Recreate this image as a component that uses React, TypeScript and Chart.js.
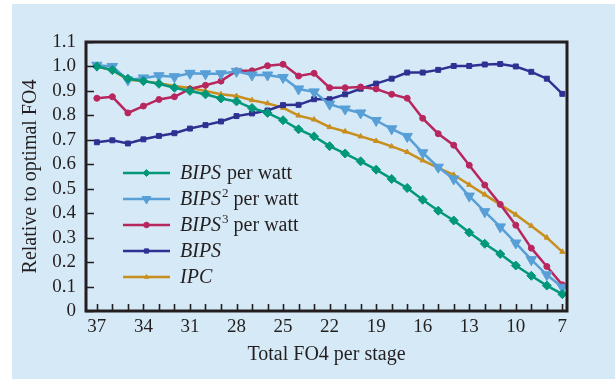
import React, { useEffect, useRef } from "react";
import { Chart, registerables } from "chart.js";
import { drawPoint } from "chart.js/helpers";

Chart.register(...registerables);

// ---------- data ----------
const fo4 = [37, 36, 35, 34, 33, 32, 31, 30, 29, 28, 27, 26, 25, 24, 23, 22, 21, 20, 19, 18, 17, 16, 15, 14, 13, 12, 11, 10, 9, 8, 7];

const bipsPerWatt = [1.0, 0.985, 0.95, 0.94, 0.929, 0.913, 0.9, 0.886, 0.869, 0.857, 0.83, 0.81, 0.78, 0.743, 0.714, 0.674, 0.644, 0.612, 0.578, 0.54, 0.503, 0.455, 0.41, 0.37, 0.321, 0.275, 0.233, 0.186, 0.144, 0.104, 0.069];
const bips2PerWatt = [1.005, 1.0, 0.945, 0.953, 0.962, 0.958, 0.972, 0.97, 0.97, 0.98, 0.965, 0.965, 0.955, 0.908, 0.896, 0.846, 0.826, 0.81, 0.779, 0.745, 0.714, 0.647, 0.588, 0.54, 0.47, 0.406, 0.344, 0.278, 0.21, 0.148, 0.097];
const bips3PerWatt = [0.87, 0.876, 0.81, 0.838, 0.865, 0.876, 0.908, 0.923, 0.94, 0.982, 0.982, 1.003, 1.009, 0.961, 0.972, 0.913, 0.913, 0.916, 0.908, 0.886, 0.87, 0.788, 0.725, 0.678, 0.596, 0.515, 0.436, 0.351, 0.257, 0.182, 0.107];
const bips = [0.69, 0.698, 0.685, 0.702, 0.716, 0.727, 0.746, 0.76, 0.775, 0.797, 0.808, 0.82, 0.842, 0.843, 0.866, 0.866, 0.886, 0.909, 0.93, 0.95, 0.975, 0.975, 0.986, 1.002, 1.002, 1.008, 1.01, 1.0, 0.978, 0.95, 0.888];
const ipc = [1.0, 0.985, 0.946, 0.94, 0.931, 0.92, 0.912, 0.9, 0.886, 0.879, 0.862, 0.849, 0.831, 0.799, 0.783, 0.752, 0.734, 0.714, 0.695, 0.673, 0.65, 0.616, 0.585, 0.557, 0.516, 0.476, 0.435, 0.394, 0.348, 0.3, 0.242];

const seriesLabels = ["BIPS per watt", "BIPS² per watt", "BIPS³ per watt", "BIPS", "IPC"];
const legendItalic = ["BIPS", "BIPS", "BIPS", "BIPS", "IPC"];
const legendSup = ["", "2", "3", "", ""];
const legendRest = [" per watt", " per watt", " per watt", "", ""];

const xTicks = [37, 34, 31, 28, 25, 22, 19, 16, 13, 10, 7];
const yTicks = [0, 0.1, 0.2, 0.3, 0.4, 0.5, 0.6, 0.7, 0.8, 0.9, 1.0, 1.1];
const xMinorTicks = fo4;

const xTitle = "Total FO4 per stage";
const yTitle = "Relative to optimal FO4";

// ---------- styles ----------
const INK = "#231f20";
const FONT = "'Liberation Serif', 'DejaVu Serif', serif";
const colors = ["#00977a", "#579fd6", "#b7275e", "#2e3192", "#c88f1f"];
const shapes = ["rectRot", "triangle", "circle", "rect", "triangle"];
const radii = [4.5, 6, 3, 3.5, 3];
const legendRadii = [3.5, 5, 2.8, 3, 2.5];
const rotations = [0, 180, 0, 0, 0];
const allSeries = [bipsPerWatt, bips2PerWatt, bips3PerWatt, bips, ipc];

const framePlugin = {
  id: "frameAndTicks",
  afterDraw(chart: any) {
    const { ctx, chartArea } = chart;
    const xs = chart.scales.x;
    const ys = chart.scales.y;
    ctx.save();
    ctx.strokeStyle = INK;
    ctx.lineWidth = 1.6;
    ctx.beginPath();
    for (const v of xMinorTicks) {
      const px = Math.round(xs.getPixelForValue(v)) + 0.5;
      ctx.moveTo(px, chartArea.bottom);
      ctx.lineTo(px, chartArea.bottom - 7);
    }
    for (const v of yTicks) {
      const py = Math.round(ys.getPixelForValue(v)) + 0.5;
      ctx.moveTo(chartArea.left, py);
      ctx.lineTo(chartArea.left + 8, py);
    }
    ctx.stroke();
    ctx.lineWidth = 3;
    ctx.strokeRect(chartArea.left, chartArea.top, chartArea.right - chartArea.left, chartArea.bottom - chartArea.top);
    ctx.restore();
  },
};

const legendPlugin = {
  id: "insideLegend",
  afterDatasetsDraw(chart: any) {
    const { ctx, chartArea } = chart;
    const x0 = chartArea.left + 37;
    const y0 = chartArea.top + 131;
    const rowH = 26;
    ctx.save();
    chart.data.datasets.forEach((ds: any, i: number) => {
      const y = y0 + i * rowH;
      ctx.strokeStyle = ds.borderColor;
      ctx.lineWidth = 2.5;
      ctx.beginPath();
      ctx.moveTo(x0, y);
      ctx.lineTo(x0 + 47, y);
      ctx.stroke();
      ctx.fillStyle = ds.pointBackgroundColor;
      ctx.strokeStyle = ds.pointBorderColor;
      ctx.lineWidth = 1;
      drawPoint(ctx, { pointStyle: ds.pointStyle, radius: legendRadii[i], rotation: ds.pointRotation, borderWidth: 1 }, x0 + 23.5, y);
      let tx = x0 + 57;
      ctx.fillStyle = INK;
      ctx.textBaseline = "middle";
      ctx.textAlign = "left";
      ctx.font = `italic 20px ${FONT}`;
      ctx.fillText(legendItalic[i], tx, y + 1);
      tx += ctx.measureText(legendItalic[i]).width + 1;
      if (legendSup[i]) {
        ctx.font = `13px ${FONT}`;
        ctx.fillText(legendSup[i], tx, y - 5);
        tx += ctx.measureText(legendSup[i]).width;
      }
      if (legendRest[i]) {
        ctx.font = `20px ${FONT}`;
        ctx.fillText(legendRest[i], tx, y + 1);
      }
    });
    ctx.restore();
  },
};

export default function App() {
  const ref = useRef<HTMLCanvasElement | null>(null);

  useEffect(() => {
    if (!ref.current) return;
    const datasets = allSeries.map((vals, i) => ({
      label: seriesLabels[i],
      data: vals.map((v, j) => ({ x: fo4[j], y: v })),
      borderColor: colors[i],
      backgroundColor: colors[i],
      pointBackgroundColor: colors[i],
      pointBorderColor: colors[i],
      pointStyle: shapes[i],
      pointRadius: radii[i],
      pointRotation: rotations[i],
      pointBorderWidth: 1,
      borderWidth: 2.5,
      tension: 0,
      fill: false,
    }));
    const tickFont = { family: FONT, size: 19 };
    const titleFont = { family: FONT, size: 20 };
    const chart = new Chart(ref.current, {
      type: "line",
      data: { datasets: datasets.slice().reverse() as any },
      options: {
        animation: false,
        responsive: false,
        maintainAspectRatio: false,
        layout: { padding: { top: 42, right: 48, left: 0, bottom: 0 } },
        plugins: { legend: { display: false }, tooltip: { enabled: false } },
        scales: {
          x: {
            type: "linear",
            reverse: true,
            min: 6.7,
            max: 37.7,
            afterBuildTicks: (s: any) => {
              s.ticks = xTicks.map((v) => ({ value: v }));
            },
            afterFit: (s: any) => {
              s.height = 68;
            },
            grid: { display: false, drawTicks: false },
            border: { display: false },
            ticks: { font: tickFont, color: INK, padding: 5, autoSkip: false, maxRotation: 0, callback: (v: any) => String(v) },
            title: { display: true, text: xTitle, font: titleFont, color: INK, padding: { top: 0, bottom: 12 } },
          },
          y: {
            min: 0,
            max: 1.1,
            afterBuildTicks: (s: any) => {
              s.ticks = yTicks.map((v) => ({ value: v }));
            },
            afterFit: (s: any) => {
              s.width = 86;
            },
            grid: { display: false, drawTicks: false },
            border: { display: false },
            ticks: {
              font: tickFont,
              color: INK,
              padding: 10,
              autoSkip: false,
              callback: (v: any) => (Math.abs(v) < 1e-9 ? "0" : Number(v).toFixed(1)),
            },
            title: { display: true, text: yTitle, font: titleFont, color: INK, padding: { top: 19, bottom: 0 } },
          },
        },
      } as any,
      plugins: [framePlugin, legendPlugin],
    });
    chart.data.datasets.reverse();
    chart.update();
    return () => chart.destroy();
  }, []);

  return (
    <div style={{ position: "fixed", left: 0, top: 0, width: 615, height: 379, background: "#ffffff", overflow: "hidden" }}>
      <div style={{ position: "absolute", left: 12, top: 4, right: 0, bottom: 0, background: "#d6e9f6" }} />
      <canvas ref={ref} width={615} height={379} style={{ position: "absolute", left: 0, top: 0, width: 615, height: 379 }} />
    </div>
  );
}
